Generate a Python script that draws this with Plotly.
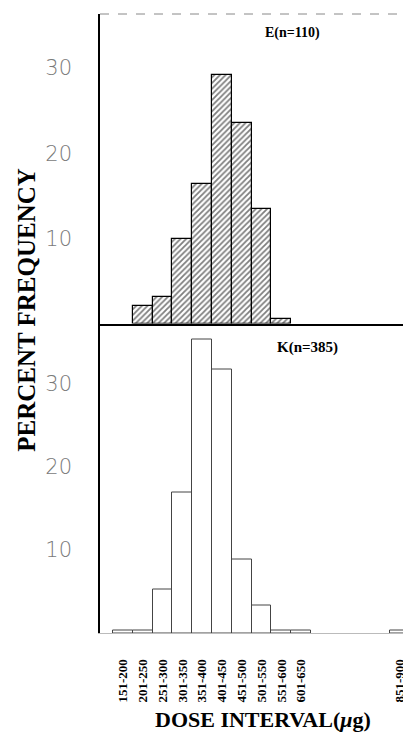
import plotly.graph_objects as go
from plotly.subplots import make_subplots

dose_bins = ["151-200", "201-250", "251-300", "301-350", "351-400", "401-450",
             "451-500", "501-550", "551-600", "601-650", "651-700", "701-750",
             "751-800", "801-850", "851-900"]
tick_labels = ["151-200", "201-250", "251-300", "301-350", "351-400", "401-450",
               "451-500", "501-550", "551-600", "601-650", "851-900"]
e_percent = [None, 2.1, 3.1, 9.9, 16.4, 29.2, 23.6, 13.5, 0.5, None, None, None, None, None, None]
k_percent = [0.3, 0.3, 5.3, 16.9, 35.4, 31.7, 8.9, 3.3, 0.3, 0.3, None, None, None, None, 0.3]
y_ticks = [10, 20, 30]

fig = make_subplots(rows=2, cols=1, shared_xaxes=False, vertical_spacing=0)

fig.add_trace(go.Bar(
    x=dose_bins, y=e_percent, name="E(n=110)",
    marker=dict(color="white", line=dict(color="black", width=1.2),
                pattern=dict(shape="/", fgcolor="black", bgcolor="white", size=4, solidity=0.45)),
    showlegend=False), row=1, col=1)

fig.add_trace(go.Bar(
    x=dose_bins, y=k_percent, name="K(n=385)",
    marker=dict(color="white", line=dict(color="#444", width=1)),
    showlegend=False), row=2, col=1)

xr = [-1.16, 14.55]
common_x = dict(type="category", categoryorder="array", categoryarray=dose_bins,
                range=xr, showgrid=False, zeroline=False, automargin=False)
fig.update_xaxes(**common_x, showline=True, linecolor="black", linewidth=1.5,
                 showticklabels=False, ticks="", row=1, col=1)
fig.update_xaxes(**common_x, showline=True, linecolor="#bbb", linewidth=1,
                 tickmode="array", tickvals=tick_labels, ticktext=tick_labels,
                 tickangle=-90, ticks="", ticklabelstandoff=20,
                 tickfont=dict(family="Liberation Serif", size=13, color="black", weight="bold"),
                 row=2, col=1)

common_y = dict(showgrid=False, zeroline=False, showline=True, linecolor="black",
                linewidth=1.5, tickmode="array", tickvals=y_ticks, ticks="",
                ticklabelstandoff=22, automargin=False,
                tickfont=dict(family="DejaVu Sans ExtraLight, DejaVu Sans, sans-serif",
                              size=21, color="#7a7a7a", weight=300))
fig.update_yaxes(**common_y, range=[0, 36.35], row=1, col=1)
fig.update_yaxes(**common_y, range=[0, 37.3], row=2, col=1)

fig.update_layout(
    width=403, height=734,
    margin=dict(l=92, r=0, t=6, b=109, autoexpand=False),
    paper_bgcolor="white", plot_bgcolor="white",
    bargap=0,
    shapes=[dict(type="line", xref="paper", yref="paper", x0=0, x1=1, y0=1, y1=1,
                 line=dict(color="#888", width=1, dash="dash"))],
    annotations=[
        dict(text="<b>PERCENT FREQUENCY</b>", xref="paper", yref="paper",
             x=-0.235, y=0.522, textangle=-90, showarrow=False,
             xanchor="center", yanchor="middle",
             font=dict(family="Liberation Serif", size=25, color="black")),
        dict(text="<b>DOSE INTERVAL(<i>μ</i>g)</b>", xref="paper", yref="paper",
             x=0.524, y=-0.1405, showarrow=False, xanchor="center", yanchor="middle",
             font=dict(family="Liberation Serif", size=22, color="black")),
        dict(text="<b>E(n=110)</b>", xref="paper", yref="paper",
             x=0.62, y=0.969, showarrow=False, xanchor="center", yanchor="middle",
             font=dict(family="Liberation Serif", size=14, color="black")),
        dict(text="<b>K(n=385)</b>", xref="paper", yref="paper",
             x=0.666, y=0.462, showarrow=False, xanchor="center", yanchor="middle",
             font=dict(family="Liberation Serif", size=15, color="black")),
    ],
)

fig.write_html("out.html")
